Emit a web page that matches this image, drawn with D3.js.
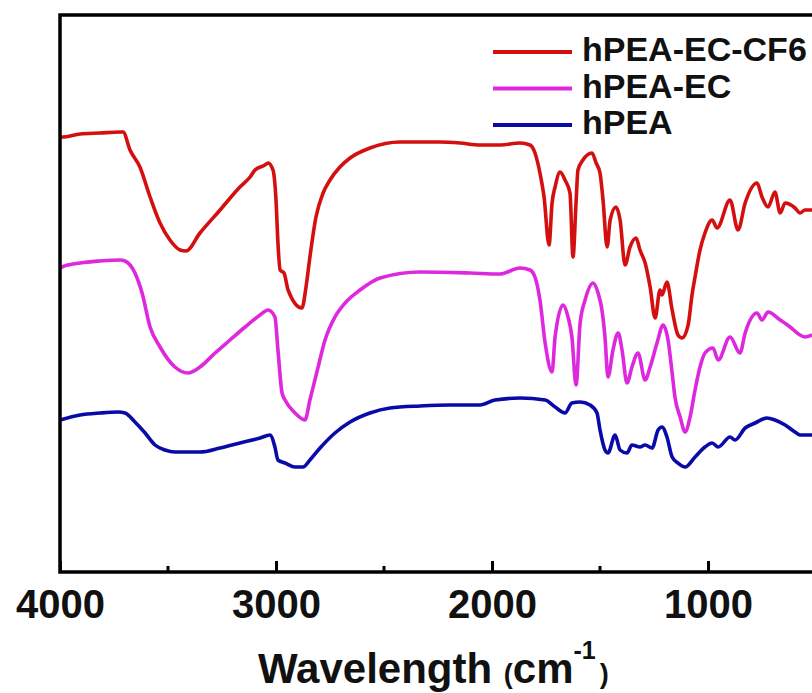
<!DOCTYPE html>
<html>
<head>
<meta charset="utf-8">
<script src="https://cdn.jsdelivr.net/npm/d3@7"></script>
<style>
  body { margin: 0; background: #fff; }
  svg { display: block; }
  text { font-family: "Liberation Sans", Arial, sans-serif; font-weight: bold; fill: #111; }
</style>
</head>
<body>
<div id="chart"></div>
<script>
// spectra, [wavenumber (cm-1), transmittance (a.u.)]
var cf6 = [[4000,87.0],[3991,87.0],[3907,87.6],[3815,87.8],[3722,88.0],[3708,88.0],[3676,84.4],[3630,81.0],[3583,75.0],[3537,69.8],[3491,66.4],[3444,64.4],[3417,64.2],[3352,67.8],[3259,72.4],[3167,77.0],[3120,79.0],[3097,80.4],[3051,81.4],[3037,81.8],[3014,80.4],[3000,74.4],[2991,65.8],[2981,60.4],[2963,59.8],[2944,56.4],[2880,52.8],[2861,57.0],[2843,63.0],[2815,71.0],[2782,75.8],[2750,78.4],[2704,81.0],[2657,82.8],[2565,84.8],[2426,86.0],[2241,86.0],[2148,85.8],[2055,85.4],[1963,85.4],[1870,85.8],[1824,85.4],[1801,83.8],[1778,79.8],[1759,75.0],[1736,65.4],[1722,73.8],[1708,77.0],[1685,80.0],[1662,78.4],[1639,75.8],[1625,63.0],[1611,73.8],[1602,80.4],[1579,82.4],[1537,83.8],[1518,81.8],[1500,79.8],[1486,74.4],[1467,65.0],[1453,70.4],[1426,73.0],[1407,70.4],[1384,61.4],[1361,65.0],[1333,66.8],[1315,64.4],[1291,61.8],[1268,57.0],[1245,50.8],[1222,56.4],[1213,55.4],[1190,58.0],[1166,52.4],[1139,47.4],[1120,46.8],[1092,49.4],[1074,55.4],[1060,59.0],[1037,64.4],[1014,67.8],[981,70.4],[958,68.8],[898,74.4],[861,68.4],[828,73.8],[773,77.8],[750,75.0],[722,73.0],[690,76.0],[666,71.8],[643,73.8],[597,72.8],[574,71.8],[551,72.4],[518,72.4]];

var ec = [[4000,60.8],[3991,61.0],[3907,61.8],[3815,62.2],[3722,62.4],[3699,62.2],[3653,59.8],[3620,55.8],[3583,49.0],[3537,45.0],[3468,41.0],[3407,39.8],[3352,41.0],[3282,43.8],[3213,46.4],[3143,49.0],[3074,51.4],[3037,52.4],[3005,51.0],[2991,44.4],[2972,35.8],[2958,34.4],[2912,31.8],[2866,30.4],[2843,34.4],[2805,41.0],[2773,46.4],[2727,51.0],[2680,53.8],[2611,56.4],[2518,58.8],[2333,60.0],[2102,59.8],[1963,59.6],[1870,60.8],[1824,60.4],[1801,59.0],[1778,54.4],[1754,45.8],[1722,40.0],[1708,47.0],[1671,53.4],[1648,51.0],[1630,47.0],[1611,37.4],[1592,49.8],[1569,54.4],[1532,57.8],[1509,55.8],[1491,52.4],[1477,47.0],[1463,39.0],[1440,44.4],[1416,47.8],[1398,44.4],[1375,37.8],[1352,41.0],[1324,43.8],[1291,38.4],[1268,41.0],[1236,45.8],[1208,49.4],[1185,46.4],[1166,39.8],[1153,35.0],[1129,31.0],[1106,28.0],[1083,31.0],[1060,36.4],[1037,41.0],[1014,43.8],[977,44.8],[953,42.4],[898,47.0],[852,43.8],[828,47.8],[773,51.8],[750,50.4],[722,52.0],[666,50.4],[620,49.0],[574,47.4],[551,47.0],[518,47.4]];

var hpea = [[4000,30.4],[3907,31.4],[3815,31.8],[3731,32.0],[3699,31.8],[3653,30.0],[3606,27.8],[3560,25.4],[3514,24.4],[3468,24.0],[3352,24.0],[3259,24.8],[3167,25.8],[3074,26.8],[3028,27.4],[3005,25.0],[2991,22.4],[2958,21.8],[2912,21.0],[2875,21.0],[2843,22.4],[2796,24.8],[2727,27.8],[2657,30.0],[2565,31.8],[2472,32.8],[2333,33.2],[2194,33.4],[2055,33.4],[1986,34.4],[1870,34.8],[1754,34.4],[1708,33.0],[1662,31.8],[1630,33.8],[1592,34.0],[1546,33.4],[1514,31.8],[1500,28.4],[1477,24.4],[1463,23.8],[1430,27.4],[1407,24.4],[1375,23.8],[1352,25.4],[1315,25.0],[1291,25.4],[1259,24.8],[1231,28.4],[1213,29.0],[1190,27.0],[1166,23.0],[1139,21.8],[1106,21.0],[1060,23.0],[1014,25.0],[981,25.8],[953,25.0],[898,27.0],[875,26.4],[828,28.8],[782,29.8],[727,30.8],[690,30.4],[643,29.4],[597,28.0],[574,27.4],[518,27.4]];

var seriesNames = ["hPEA-EC-CF6", "hPEA-EC", "hPEA"];
var seriesColors = ["#d40f0f", "#de28de", "#0a0aa8"];
var majorTicks = [4000, 3000, 2000, 1000];
var minorTicks = [3500, 2500, 1500];

var width = 812, height = 693;
var plotLeft = 60, plotTop = 15, plotBottom = 572;

var svg = d3.select("#chart")
	.append("svg")
	.attr("width", width)
	.attr("height", height);

// x runs backwards; the right part of the frame falls outside the picture
var x = d3.scaleLinear().domain([4000, 400]).range([plotLeft, plotLeft + 3600 * 0.216]);
var y = d3.scaleLinear().domain([0, (plotBottom - plotTop) / 5]).range([plotBottom, plotTop]);

svg.append("clipPath").attr("id", "plot")
	.append("rect")
	.attr("x", plotLeft).attr("y", plotTop)
	.attr("width", width - plotLeft).attr("height", plotBottom - plotTop);

var line = d3.line()
	.curve(d3.curveMonotoneX)
	.x(function(d) { return x(d[0]); })
	.y(function(d) { return y(d[1]); });

var all = [cf6, ec, hpea];
svg.append("g").attr("clip-path", "url(#plot)")
	.selectAll("path")
	.data(all)
	.enter().append("path")
	.attr("d", line)
	.attr("fill", "none")
	.attr("stroke", function(d, i) { return seriesColors[i]; })
	.attr("stroke-width", 3.6)
	.attr("stroke-linejoin", "round");

// frame: left, top and bottom edges
svg.append("path")
	.attr("d", "M" + (width + 5) + "," + plotTop + "H" + plotLeft + "V" + plotBottom + "H" + (width + 5))
	.attr("fill", "none")
	.attr("stroke", "#000")
	.attr("stroke-width", 3.5);

// ticks point inward
var xAxis = d3.axisBottom(x)
	.tickValues(majorTicks)
	.tickSize(-11)
	.tickPadding(20)
	.tickFormat(d3.format("d"));

var ax = svg.append("g")
	.attr("transform", "translate(0," + plotBottom + ")")
	.call(xAxis);
ax.select(".domain").remove();
ax.selectAll(".tick line").attr("stroke", "#000").attr("stroke-width", 3);
ax.selectAll(".tick text")
	.attr("y", 46)
	.attr("dy", 0)
	.style("font-size", "40px")
	.attr("fill", "#111");

svg.append("g").selectAll("line")
	.data(minorTicks)
	.enter().append("line")
	.attr("x1", function(d) { return x(d); })
	.attr("x2", function(d) { return x(d); })
	.attr("y1", plotBottom)
	.attr("y2", plotBottom - 6)
	.attr("stroke", "#000")
	.attr("stroke-width", 3);

// axis title
var title = svg.append("text")
	.attr("x", 258)
	.attr("y", 683)
	.style("font-size", "42px");
title.append("tspan").text("Wavelength ");
title.append("tspan").style("font-size", "27px").text("(");
title.append("tspan").text("cm");
title.append("tspan").style("font-size", "25px").attr("dy", -24).text("-1");
title.append("tspan").style("font-size", "27px").attr("dx", 4).attr("dy", 24).text(")");

// legend
var legend = svg.append("g").selectAll("g")
	.data(seriesNames)
	.enter().append("g")
	.attr("transform", function(d, i) { return "translate(493," + (52 + i * 36.5) + ")"; });

legend.append("line")
	.attr("x1", 0).attr("x2", 79)
	.attr("stroke", function(d, i) { return seriesColors[i]; })
	.attr("stroke-width", 4);

legend.append("text")
	.attr("x", 89)
	.attr("y", 9)
	.style("font-size", "34px")
	.text(function(d) { return d; });
</script>
</body>
</html>
